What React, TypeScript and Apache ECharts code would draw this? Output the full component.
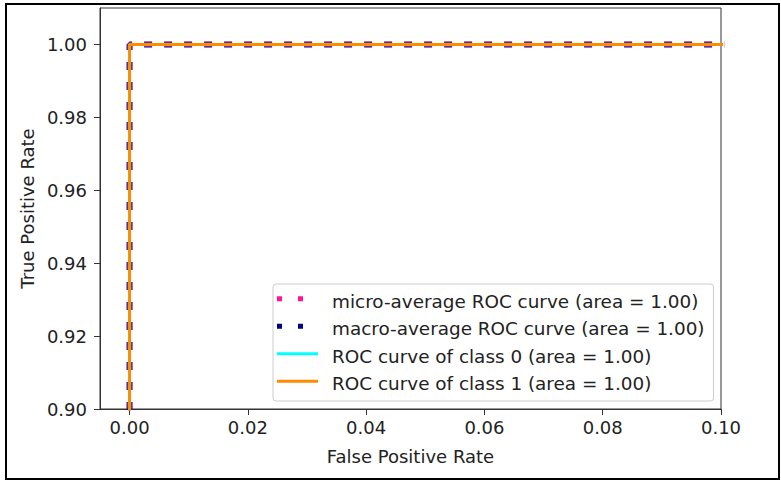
import React, { useEffect, useRef } from "react";
import * as echarts from "echarts";

const seriesNames = [
  "micro-average ROC curve (area = 1.00)",
  "macro-average ROC curve (area = 1.00)",
  "ROC curve of class 0 (area = 1.00)",
  "ROC curve of class 1 (area = 1.00)",
];
const seriesColors = ["#ff1493", "#000080", "#00ffff", "#ff8c00"];

const fprMicro = [0, 0, 1];
const tprMicro = [0, 1, 1];
const fprMacro = [0, 0, 1];
const tprMacro = [0, 1, 1];
const fprClass0 = [0, 0, 1];
const tprClass0 = [0, 1, 1];
const fprClass1 = [0, 0, 1];
const tprClass1 = [0, 1, 1];

const xTicks = [0, 0.02, 0.04, 0.06, 0.08, 0.1];
const yTicks = [0.9, 0.92, 0.94, 0.96, 0.98, 1.0];

const FONT = "DejaVu Sans";
const TXT = "#222";

const ICON_SQUARES = "path://M0,0h5v5h-5z M21,0h5v5h-5z M41,10L41,10Z";
const ICON_LINE = "path://M0,1h41v3h-41z M0,0L0,0Z M41,10L41,10Z";

function pairs(xs: number[], ys: number[]) {
  return xs.map((x, i) => [x, ys[i]]);
}

export default function App() {
  const ref = useRef<HTMLDivElement>(null);
  useEffect(() => {
    if (!ref.current) return;
    const chart = echarts.init(ref.current, undefined, { renderer: "svg" });
    const dataSets = [
      pairs(fprMicro, tprMicro),
      pairs(fprMacro, tprMacro),
      pairs(fprClass0, tprClass0),
      pairs(fprClass1, tprClass1),
    ];
    const lineStyles: any[] = [
      { color: seriesColors[0], width: 7, type: [8, 12], opacity: 0.35 },
      { color: seriesColors[1], width: 6, type: [8, 12], opacity: 0.7 },
      { color: seriesColors[2], width: 3, type: "solid" },
      { color: seriesColors[3], width: 3, type: "solid" },
    ];
    chart.setOption({
      animation: false,
      backgroundColor: "#fff",
      textStyle: { fontFamily: FONT },
      grid: {
        left: 100,
        top: 8,
        width: 621,
        height: 401,
        show: true,
        borderColor: "#333",
        borderWidth: 1,
        backgroundColor: "transparent",
      },
      xAxis: {
        type: "value",
        min: -0.005,
        max: 0.1,
        name: "False Positive Rate",
        nameLocation: "middle",
        nameGap: 38,
        nameTextStyle: { fontSize: 18, color: TXT, fontFamily: FONT },
        axisLine: { show: true, onZero: false, lineStyle: { color: "#333", width: 1 } },
        axisTick: {
          show: true,
          inside: false,
          length: 6,
          customValues: xTicks,
          lineStyle: { color: "#333" },
        },
        axisLabel: {
          customValues: xTicks,
          formatter: (v: number) => v.toFixed(2),
          fontSize: 18,
          color: TXT,
          fontFamily: FONT,
          margin: 9,
        },
        splitLine: { show: false },
      },
      yAxis: {
        type: "value",
        min: 0.9,
        max: 1.01,
        name: "True Positive Rate",
        nameLocation: "middle",
        nameRotate: 90,
        nameGap: 64,
        nameTextStyle: { fontSize: 18, color: TXT, fontFamily: FONT },
        axisLine: { show: true, onZero: false, lineStyle: { color: "#333", width: 1 } },
        axisTick: {
          show: true,
          inside: false,
          length: 6,
          customValues: yTicks,
          lineStyle: { color: "#333" },
        },
        axisLabel: {
          customValues: yTicks,
          formatter: (v: number) => v.toFixed(2),
          fontSize: 18,
          color: TXT,
          fontFamily: FONT,
          margin: 13,
        },
        splitLine: { show: false },
      },
      legend: {
        orient: "vertical",
        left: 273,
        top: 284,
        padding: [3.5, 9, 3.5, 4],
        itemGap: 0,
        itemWidth: 41,
        itemHeight: 10,
        selectedMode: false,
        backgroundColor: "rgba(255,255,255,0.8)",
        borderColor: "#cccccc",
        borderWidth: 1,
        borderRadius: 3,
        itemStyle: { borderWidth: 0, opacity: 1 },
        textStyle: {
          fontSize: 18.4,
          lineHeight: 27.5,
          color: TXT,
          fontFamily: FONT,
          padding: [0, 0, 0, 9],
        },
        data: seriesNames.map((n, i) => ({
          name: n,
          icon: i < 2 ? ICON_SQUARES : ICON_LINE,
        })),
      },
      series: seriesNames.map((n, i) => ({
        name: n,
        type: "line",
        data: dataSets[i],
        showSymbol: false,
        symbol: "none",
        clip: true,
        itemStyle: { color: seriesColors[i] },
        lineStyle: lineStyles[i],
        z: 2 + i,
      })),
    });
    return () => chart.dispose();
  }, []);
  return (
    <div
      style={{
        position: "fixed",
        left: 0,
        top: 0,
        width: 781,
        height: 482,
        background: "#fff",
      }}
    >
      <div ref={ref} style={{ position: "absolute", left: 0, top: 0, width: 781, height: 482 }} />
      <div
        style={{
          position: "absolute",
          left: 5,
          top: 3,
          width: 771,
          height: 473,
          border: "2px solid #000",
          pointerEvents: "none",
        }}
      />
    </div>
  );
}
